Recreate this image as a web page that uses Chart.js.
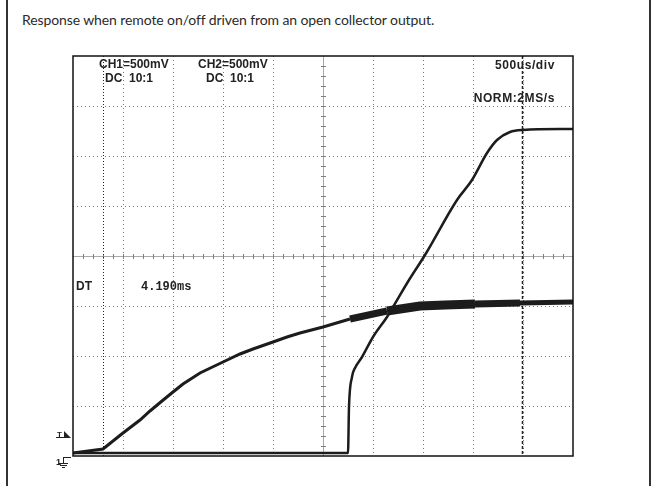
<!DOCTYPE html>
<html>
<head>
<meta charset="utf-8">
<script src="https://cdn.jsdelivr.net/npm/chart.js@4.4.1/dist/chart.umd.min.js"></script>
<style>
  html, body { margin: 0; padding: 0; background: #fff; }
  #wrap { position: relative; width: 652px; height: 486px; overflow: hidden; }
  #frame { position: absolute; left: 6px; top: -4px; width: 641px; height: 500px;
           border-left: 2px solid #333; border-right: 2px solid #333; }
  #title { position: absolute; left: 22px; top: 11px; font: 14px Lato, sans-serif; letter-spacing: -0.1px; color: #2a2a2a; white-space: nowrap; }
  canvas { position: absolute; left: 0; top: 0; }
</style>
</head>
<body>
<div id="wrap">
  <div id="frame"></div>
  <div id="title">Response when remote on/off driven from an open collector output.</div>
  <canvas id="scope" width="652" height="486"></canvas>
</div>
<script>
// time in ms (500us/div, 10 div), volts (500mV/div, 8 div)
const ch1Time = [0, 0.30, 0.40, 0.50, 0.67, 0.77, 0.89, 1.00, 1.10, 1.27, 1.50, 1.67, 1.80, 2.00, 2.14, 2.27, 2.50, 2.77, 3.14, 3.47, 3.72, 4.02, 4.47, 5.00];
const ch1Volts = [0.03, 0.07, 0.15, 0.23, 0.36, 0.45, 0.55, 0.64, 0.72, 0.83, 0.94, 1.02, 1.07, 1.14, 1.19, 1.23, 1.29, 1.37, 1.45, 1.50, 1.51, 1.52, 1.53, 1.54];

const ch2Time = [0, 2.75, 2.76, 2.79, 2.82, 2.89, 3.00, 3.14, 3.20, 3.36, 3.52, 3.84, 3.99, 4.14, 4.24, 4.37, 4.50, 5.00];
const ch2Volts = [0.03, 0.03, 0.49, 0.79, 0.88, 0.99, 1.19, 1.39, 1.49, 1.76, 2.01, 2.56, 2.76, 3.03, 3.16, 3.24, 3.26, 3.27];

const cursorTimes = [0.30, 4.49];
const timeDivs = 10;
const voltDivs = 8;
const msPerDiv = 0.5;
const voltsPerDiv = 0.5;

const traceColor = "#1c1c1c";
const gridColor = "#7a7a7a";
const crossColor = "#a8a8a8";
const labelFont = "bold 12px 'Liberation Sans', Arial, sans-serif";

function toPoints(xs, ys) {
  return xs.map((x, i) => ({ x, y: ys[i] }));
}

// the slow trace gets noisy and thick once the output settles
function ch1Width(ctx) {
  const t = ctx.p0.parsed.x;
  if (t >= 3.0 && t < 4.0) return 9;
  if (t >= 2.7 && t < 4.3) return 7;
  if (t >= 4.3) return 5;
  return 3;
}

function innerGrid(maxValue, centerValue) {
  return (ctx) => {
    const v = ctx.tick ? ctx.tick.value : 0;
    if (Math.abs(v) < 1e-6 || Math.abs(v - maxValue) < 1e-6 || Math.abs(v - centerValue) < 1e-6) {
      return "rgba(0,0,0,0)";
    }
    return gridColor;
  };
}

const scopePlugin = {
  id: "scopeScreen",
  beforeDatasetsDraw(chart) {
    const { ctx, chartArea, scales } = chart;
    const cx = scales.x.getPixelForValue(msPerDiv * timeDivs / 2);
    const cy = scales.y.getPixelForValue(voltsPerDiv * voltDivs / 2);

    ctx.save();
    ctx.strokeStyle = crossColor;
    ctx.lineWidth = 1;
    ctx.beginPath();
    ctx.moveTo(chartArea.left, cy + 0.5);
    ctx.lineTo(chartArea.right, cy + 0.5);
    ctx.moveTo(cx + 0.5, chartArea.top);
    ctx.lineTo(cx + 0.5, chartArea.bottom);
    ctx.stroke();

    ctx.strokeStyle = "#7f7f7f";
    ctx.beginPath();
    for (let i = 1; i < timeDivs * 5; i++) {
      const px = Math.round(scales.x.getPixelForValue(i * msPerDiv / 5)) + 0.5;
      ctx.moveTo(px, cy - 2);
      ctx.lineTo(px, cy + 3);
    }
    for (let i = 1; i < voltDivs * 5; i++) {
      const py = Math.round(scales.y.getPixelForValue(i * voltsPerDiv / 5)) + 0.5;
      ctx.moveTo(cx - 2, py);
      ctx.lineTo(cx + 3, py);
    }
    ctx.stroke();

    // time cursors
    const c1 = Math.round(scales.x.getPixelForValue(cursorTimes[0])) + 0.5;
    const c2 = Math.round(scales.x.getPixelForValue(cursorTimes[1])) + 0.5;
    ctx.strokeStyle = "#222";
    ctx.setLineDash([1, 2]);
    ctx.beginPath();
    ctx.moveTo(c1, chartArea.top);
    ctx.lineTo(c1, chartArea.bottom);
    ctx.stroke();
    ctx.lineWidth = 1.5;
    ctx.setLineDash([3, 2]);
    ctx.beginPath();
    ctx.moveTo(c2, chartArea.top);
    ctx.lineTo(c2, chartArea.bottom);
    ctx.stroke();
    ctx.restore();
  },
  afterDraw(chart) {
    const { ctx, chartArea } = chart;
    ctx.save();
    ctx.strokeStyle = "#111";
    ctx.lineWidth = 1.5;
    ctx.strokeRect(chartArea.left, chartArea.top, chartArea.right - chartArea.left, chartArea.bottom - chartArea.top);

    ctx.fillStyle = "#222";
    ctx.font = labelFont;
    ctx.textBaseline = "alphabetic";
    ctx.textAlign = "left";
    ctx.fillText("CH1=500mV", 99, 68);
    ctx.fillText("DC  10:1", 105, 82);
    ctx.fillText("CH2=500mV", 198, 68);
    ctx.fillText("DC  10:1", 206, 82);
    ctx.textAlign = "right";
    ctx.letterSpacing = "0.6px";
    ctx.fillText("500us/div", 555, 69);
    ctx.fillText("NORM:2MS/s", 555, 102);
    ctx.letterSpacing = "0px";
    ctx.textAlign = "left";
    ctx.fillText("DT", 76, 290);
    ctx.font = "bold 12px 'Liberation Mono', monospace";
    ctx.fillText("4.190ms", 141, 290);

    // trigger level marker
    ctx.font = "bold 8px 'Liberation Sans', Arial, sans-serif";
    ctx.fillText("T", 57, 437);
    ctx.fillRect(56, 437, 8, 1);
    ctx.beginPath();
    ctx.moveTo(64, 431);
    ctx.lineTo(71, 438);
    ctx.lineTo(64, 438);
    ctx.closePath();
    ctx.fill();

    // channel ground marker
    ctx.font = "bold 9px 'Liberation Sans', Arial, sans-serif";
    ctx.fillText("1", 56, 465);
    ctx.strokeStyle = "#222";
    ctx.lineWidth = 1;
    ctx.beginPath();
    ctx.moveTo(63, 457.5); ctx.lineTo(71, 457.5);
    ctx.moveTo(63.5, 457); ctx.lineTo(63.5, 463);
    ctx.moveTo(59, 463.5); ctx.lineTo(68, 463.5);
    ctx.moveTo(60, 465.5); ctx.lineTo(67, 465.5);
    ctx.moveTo(62, 467.5); ctx.lineTo(65, 467.5);
    ctx.stroke();
    ctx.restore();
  },
};

new Chart(document.getElementById("scope"), {
  type: "scatter",
  plugins: [scopePlugin],
  data: {
    datasets: [
      {
        label: "CH1",
        data: toPoints(ch1Time, ch1Volts),
        showLine: true,
        borderColor: traceColor,
        borderWidth: 3,
        pointRadius: 0,
        segment: { borderWidth: ch1Width },
      },
      {
        label: "CH2",
        data: toPoints(ch2Time, ch2Volts),
        showLine: true,
        borderColor: traceColor,
        borderWidth: 2.5,
        pointRadius: 0,
        cubicInterpolationMode: "monotone",
      },
    ],
  },
  options: {
    responsive: false,
    animation: false,
    events: [],
    layout: { padding: { left: 73, top: 56, right: 79, bottom: 30 } },
    plugins: {
      legend: { display: false },
      tooltip: { enabled: false },
    },
    scales: {
      x: {
        type: "linear",
        min: 0,
        max: msPerDiv * timeDivs,
        ticks: { stepSize: msPerDiv, display: false },
        grid: { drawTicks: false, lineWidth: 1, color: innerGrid(msPerDiv * timeDivs, msPerDiv * timeDivs / 2) },
        border: { display: false, dash: [1, 3] },
      },
      y: {
        type: "linear",
        min: 0,
        max: voltsPerDiv * voltDivs,
        ticks: { stepSize: voltsPerDiv, display: false },
        grid: { drawTicks: false, lineWidth: 1, color: innerGrid(voltsPerDiv * voltDivs, voltsPerDiv * voltDivs / 2) },
        border: { display: false, dash: [1, 3] },
      },
    },
  },
});
</script>
</body>
</html>
